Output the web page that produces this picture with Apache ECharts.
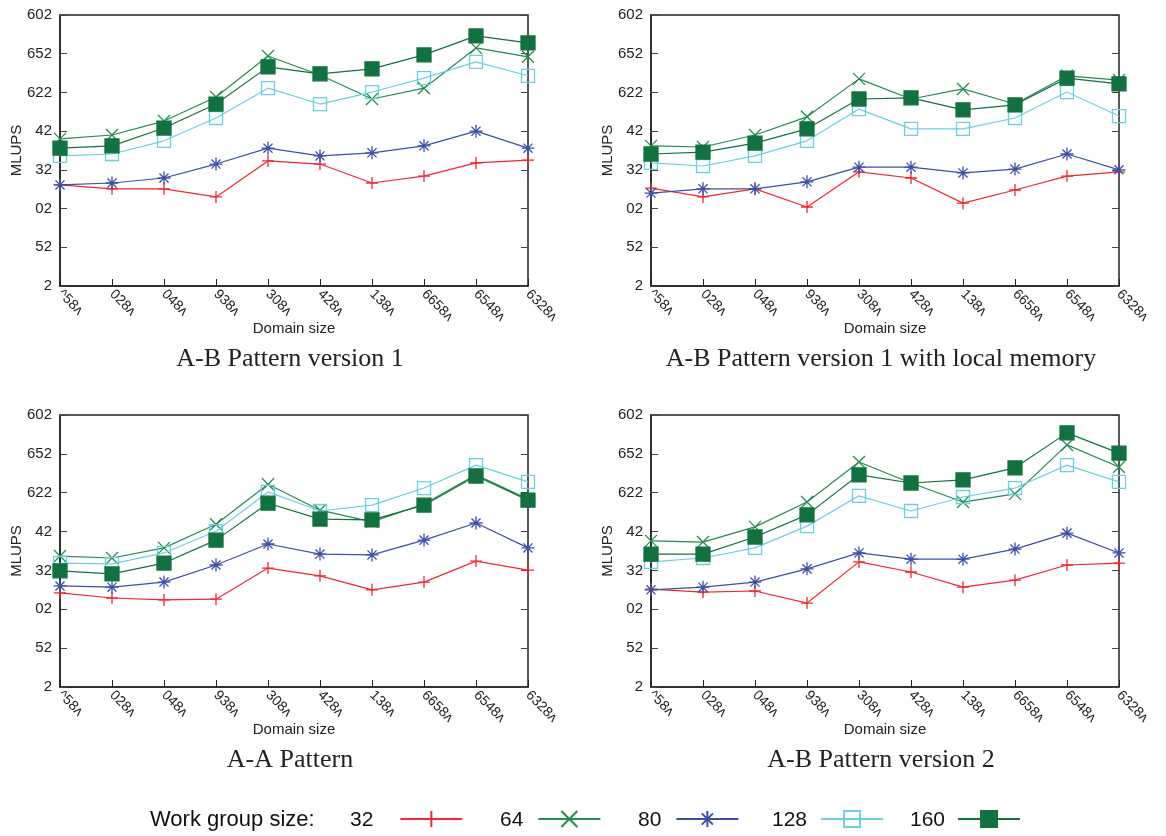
<!DOCTYPE html>
<html>
<head>
<meta charset="utf-8">
<script src="https://cdn.jsdelivr.net/npm/echarts@6/dist/echarts.min.js"></script>
<style>
html,body{margin:0;padding:0;background:#fff;}
#chart{width:1166px;height:836px;}
</style>
</head>
<body>
<div id="chart"></div>
<script>
// ---- Data ----
const categories = ['^58ʌ','028ʌ','048ʌ','938ʌ','308ʌ','428ʌ','138ʌ','6658ʌ','6548ʌ','6328ʌ'];
const yTickLabels = ['2','52','02','32','42','622','652','602'];
const groupSizes = ['32','64','80','128','160'];
const panelTitles = ['A-B Pattern version 1','A-B Pattern version 1 with local memory','A-A Pattern','A-B Pattern version 2'];

// Panel 1: A-B Pattern version 1
const p1_32  = [2.61,2.51,2.51,2.30,3.23,3.15,2.66,2.84,3.18,3.25];
const p1_64  = [3.80,3.90,4.26,4.88,5.94,5.45,4.83,5.11,6.15,5.92];
const p1_80  = [2.61,2.66,2.79,3.15,3.56,3.36,3.44,3.62,4.00,3.56];
const p1_128 = [3.36,3.41,3.75,4.34,5.11,4.70,5.01,5.37,5.79,5.43];
const p1_160 = [3.56,3.62,4.08,4.70,5.66,5.48,5.61,5.97,6.46,6.28];
// Panel 2: A-B Pattern version 1 with local memory
const p2_32  = [2.53,2.30,2.51,2.04,2.95,2.79,2.14,2.48,2.84,2.95];
const p2_64  = [3.62,3.59,3.90,4.37,5.35,4.83,5.09,4.70,5.43,5.32];
const p2_80  = [2.40,2.51,2.51,2.69,3.07,3.07,2.92,3.02,3.41,3.00];
const p2_128 = [3.18,3.10,3.36,3.75,4.57,4.06,4.06,4.34,5.01,4.39];
const p2_160 = [3.41,3.46,3.69,4.06,4.83,4.86,4.55,4.68,5.37,5.22];
// Panel 3: A-A Pattern
const p3_32  = [2.42,2.29,2.24,2.26,3.06,2.86,2.50,2.70,3.24,3.01];
const p3_64  = [3.37,3.32,3.58,4.19,5.22,4.55,4.25,4.71,5.46,4.84];
const p3_80  = [2.60,2.57,2.70,3.14,3.68,3.42,3.40,3.78,4.22,3.58];
const p3_128 = [3.19,3.17,3.45,4.01,5.02,4.53,4.68,5.12,5.71,5.28];
const p3_160 = [2.99,2.91,3.19,3.78,4.73,4.32,4.30,4.68,5.43,4.81];
// Panel 4: A-B Pattern version 2
const p4_32  = [2.52,2.44,2.47,2.16,3.22,2.96,2.57,2.75,3.14,3.19];
const p4_64  = [3.76,3.73,4.12,4.76,5.79,5.25,4.76,4.97,6.23,5.66];
const p4_80  = [2.50,2.57,2.70,3.04,3.45,3.29,3.29,3.55,3.96,3.45];
const p4_128 = [3.22,3.32,3.58,4.14,4.92,4.53,4.89,5.12,5.71,5.28];
const p4_160 = [3.42,3.42,3.86,4.43,5.46,5.25,5.33,5.64,6.54,6.02];

const panels = [
  [p1_32,p1_64,p1_80,p1_128,p1_160],
  [p2_32,p2_64,p2_80,p2_128,p2_160],
  [p3_32,p3_64,p3_80,p3_128,p3_160],
  [p4_32,p4_64,p4_80,p4_128,p4_160]
];

// ---- Styles ----
const colors = ['#ee2a2f','#268a52','#3b50a6','#6ccfe0','#137140'];
const symbols = [
  'path://M0,5L10,5M5,0L5,10',
  'path://M0,0L10,10M0,10L10,0',
  'path://M0,5L10,5M5,0L5,10M1.5,1.5L8.5,8.5M1.5,8.5L8.5,1.5',
  'rect',
  'rect'
];
const symbolSizes = [12,12,13,13,14];
const grids = [
  {left:60, right:638, top:15, height:271},
  {left:651, right:47, top:15, height:271},
  {left:60, right:638, top:415, height:272},
  {left:651, right:47, top:415, height:272}
];
const titlePos = [[290,359],[881,359],[290,760],[881,760]];
const legendLeft = [350,500,638,772,910];
const legendTextPad = [22,10,10,9,8];

const sans = 'Liberation Sans, Arial, sans-serif';
const serif = 'Liberation Serif, Times New Roman, serif';

const option = {
  animation:false,
  backgroundColor:'#fff',
  grid: grids.map(g => Object.assign({show:true, borderColor:'#222', borderWidth:1.5, containLabel:false}, g)),
  xAxis: grids.map((g,i) => ({
    type:'category', gridIndex:i, data:categories, boundaryGap:false,
    axisLine:{show:true, lineStyle:{color:'#222', width:1.5}},
    axisTick:{show:true, inside:true, length:7, lineStyle:{color:'#222', width:1}},
    axisLabel:{rotate:-45, fontFamily:sans, fontSize:14, color:'#222', margin:6, interval:0},
    splitLine:{show:false},
    name:'Domain size', nameLocation:'middle', nameGap:35, nameMoveOverlap:false,
    nameTextStyle:{fontFamily:sans, fontSize:15, color:'#222'}
  })),
  yAxis: grids.map((g,i) => ({
    type:'value', gridIndex:i, min:0, max:7, interval:1, position:'left',
    axisLine:{show:true, lineStyle:{color:'#222', width:1.5}},
    axisTick:{show:true, inside:true, length:7, lineStyle:{color:'#444', width:1}},
    axisLabel:{fontFamily:sans, fontSize:15, color:'#222', margin:8, formatter:v => yTickLabels[v]},
    splitLine:{show:false},
    name:'MLUPS', nameLocation:'middle', nameRotate:90, nameGap:36, nameMoveOverlap:false,
    nameTextStyle:{fontFamily:sans, fontSize:15, color:'#222'}
  })).concat(grids.map((g,i) => ({
    type:'value', gridIndex:i, min:0, max:7, interval:1, position:'right',
    axisLine:{show:false},
    axisTick:{show:true, inside:true, length:7, lineStyle:{color:'#444', width:1}},
    axisLabel:{show:false},
    splitLine:{show:false}
  }))),
  legend: groupSizes.map((name,k) => ({
    data:[name], left:legendLeft[k], top:810, align:'right', padding:0,
    itemWidth:62, itemHeight:20, itemGap:0,
    formatter: n => '{a|' + n + '}',
    textStyle:{fontFamily:sans, fontSize:21, color:'#111',
      rich:{a:{fontFamily:sans, fontSize:21, color:'#111', padding:[3, legendTextPad[k], 0, 0]}}},
    selectedMode:false
  })),
  graphic: titlePos.map((p,i) => ({
    type:'text', x:p[0], y:p[1],
    style:{text:panelTitles[i], font:'26px '+serif, fill:'#222', textAlign:'center', textVerticalAlign:'middle'}
  })).concat([{
    type:'text', x:150, y:820,
    style:{text:'Work group size:', font:'22px '+sans, fill:'#111', textAlign:'left', textVerticalAlign:'middle'}
  }]),
  series: []
};

panels.forEach((pd,i) => {
  pd.forEach((vals,k) => {
    const filled = k !== 3;
    option.series.push({
      type:'line', name:groupSizes[k], xAxisIndex:i, yAxisIndex:i,
      data:vals,
      symbol:symbols[k], symbolSize:symbolSizes[k], showAllSymbol:true,
      lineStyle:{color:colors[k], width:1.2},
      itemStyle:{color: filled ? colors[k] : 'rgba(255,255,255,0)', borderColor:colors[k], borderWidth:1.3},
      emphasis:{disabled:true},
      z: 2 + k
    });
  });
});

const chart = echarts.init(document.getElementById('chart'), null, {renderer:'canvas'});
chart.setOption(option);
</script>
</body>
</html>
